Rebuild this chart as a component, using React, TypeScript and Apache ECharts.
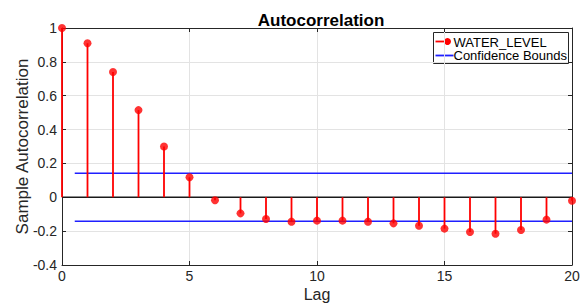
import React, { useEffect, useRef } from "react";
import * as echarts from "echarts";

const lags = [0, 1, 2, 3, 4, 5, 6, 7, 8, 9, 10, 11, 12, 13, 14, 15, 16, 17, 18, 19, 20];
const acf = [1, 0.91, 0.74, 0.515, 0.3, 0.118, -0.018, -0.095, -0.128, -0.144, -0.138, -0.138, -0.144, -0.154, -0.168, -0.185, -0.205, -0.215, -0.193, -0.132, -0.02];
const boundX = [0.5, 20];
const upperBound = 0.142;
const lowerBound = -0.142;
const xTicks = [0, 5, 10, 15, 20];

const FONT = "Liberation Sans, Arial, Helvetica, sans-serif";
const TXT = "#262626";

export default function App() {
  const ref = useRef<HTMLDivElement>(null);
  useEffect(() => {
    if (!ref.current) return;
    const chart = echarts.init(ref.current, null, { renderer: "svg" });
    const stemData = lags.map((l, i) => [l, acf[i]]);
    const option: any = {
      animation: false,
      backgroundColor: "#ffffff",
      textStyle: { fontFamily: FONT },
      title: {
        text: "Autocorrelation",
        left: 316,
        top: 7,
        textAlign: "center",
        textStyle: { fontSize: 17, fontWeight: "bold", color: "#000", fontFamily: FONT },
      },
      grid: { left: 62, right: 11, top: 28, bottom: 38, containLabel: false, outerBoundsMode: "none" },
      xAxis: [
        {
          type: "value",
          min: 0,
          max: 20,
          interval: 5,
          name: "Lag",
          nameLocation: "middle",
          nameGap: 21,
          nameMoveOverlap: false,
          nameTextStyle: { fontSize: 16, color: TXT, fontFamily: FONT },
          axisLine: { show: true, onZero: false, lineStyle: { color: TXT, width: 1 } },
          axisTick: { show: true, inside: true, length: 4, lineStyle: { color: TXT } },
          axisLabel: { fontSize: 14, color: TXT, margin: 4, fontFamily: FONT },
          splitLine: { show: true, lineStyle: { color: "#e3e3e3", width: 1 } },
        },
        {
          type: "value",
          position: "top",
          min: 0,
          max: 20,
          interval: 5,
          axisLine: { show: true, onZero: false, lineStyle: { color: TXT, width: 1 } },
          axisTick: { show: true, inside: true, length: 4, lineStyle: { color: TXT } },
          axisLabel: { show: false },
          splitLine: { show: false },
        },
      ],
      yAxis: [
        {
          type: "value",
          min: -0.4,
          max: 1,
          interval: 0.2,
          name: "Sample Autocorrelation",
          nameLocation: "middle",
          nameGap: 31,
          nameMoveOverlap: false,
          nameTextStyle: { fontSize: 17, color: TXT, fontFamily: FONT },
          axisLine: { show: true, onZero: false, lineStyle: { color: TXT, width: 1 } },
          axisTick: { show: true, inside: true, length: 4, lineStyle: { color: TXT } },
          axisLabel: {
            fontSize: 14,
            color: TXT,
            margin: 5,
            fontFamily: FONT,
            formatter: (v: number) => String(Math.round(v * 10) / 10),
          },
          splitLine: { show: true, lineStyle: { color: "#e3e3e3", width: 1 } },
        },
        {
          type: "value",
          position: "right",
          min: -0.4,
          max: 1,
          interval: 0.2,
          axisLine: { show: true, onZero: false, lineStyle: { color: TXT, width: 1 } },
          axisTick: { show: true, inside: true, length: 4, lineStyle: { color: TXT } },
          axisLabel: { show: false },
          splitLine: { show: false },
        },
      ],
      series: [
        {
          name: "baseline",
          type: "line",
          data: [[xTicks[0], 0], [xTicks[xTicks.length - 1], 0]],
          symbol: "none",
          lineStyle: { color: "#1a1a1a", width: 1.5 },
          silent: true,
          z: 3,
        },
        {
          name: "Upper",
          type: "line",
          data: boundX.map((x) => [x, upperBound]),
          symbol: "none",
          lineStyle: { color: "#1f1fff", width: 1.5 },
          z: 2,
        },
        {
          name: "Lower",
          type: "line",
          data: boundX.map((x) => [x, lowerBound]),
          symbol: "none",
          lineStyle: { color: "#1f1fff", width: 1.5 },
          z: 2,
        },
        {
          name: "stems",
          type: "custom",
          clip: false,
          z: 4,
          data: stemData,
          renderItem: (params: any, api: any) => {
            const x = api.value(0);
            const y = api.value(1);
            const p0 = api.coord([x, 0]);
            const p1 = api.coord([x, y]);
            return {
              type: "line",
              shape: { x1: p0[0], y1: p0[1], x2: p1[0], y2: p1[1] },
              style: { stroke: "#ff0000", lineWidth: 1.8 },
            };
          },
        },
        {
          name: "WATER_LEVEL",
          type: "scatter",
          data: stemData,
          symbol: "circle",
          symbolSize: 8,
          clip: false,
          itemStyle: { color: "#ff0000" },
          z: 5,
        },
      ],
      graphic: [
        {
          type: "group",
          left: 433,
          top: 32,
          z: 100,
          children: [
            {
              type: "rect",
              shape: { x: 0, y: 0, width: 135, height: 31 },
              style: { fill: "#ffffff", stroke: TXT, lineWidth: 1 },
            },
            {
              type: "line",
              shape: { x1: 2, y1: 9, x2: 15, y2: 9 },
              style: { stroke: "#ff0000", lineWidth: 1.8 },
            },
            {
              type: "circle",
              shape: { cx: 14, cy: 9, r: 3.5 },
              style: { fill: "#ff0000" },
            },
            {
              type: "text",
              x: 20,
              y: 9.5,
              style: { text: "WATER_LEVEL", fontSize: 13, fill: "#000", fontFamily: FONT, verticalAlign: "middle" },
            },
            {
              type: "line",
              shape: { x1: 2, y1: 23, x2: 20, y2: 23 },
              style: { stroke: "#1f1fff", lineWidth: 1.8 },
            },
            {
              type: "text",
              x: 20,
              y: 23,
              style: { text: "Confidence Bounds", fontSize: 13, fill: "#000", fontFamily: FONT, verticalAlign: "middle" },
            },
          ],
        },
      ],
    };
    chart.setOption(option);
    return () => chart.dispose();
  }, []);
  return <div ref={ref} style={{ width: 583, height: 303, position: "fixed", left: 0, top: 0 }} />;
}
